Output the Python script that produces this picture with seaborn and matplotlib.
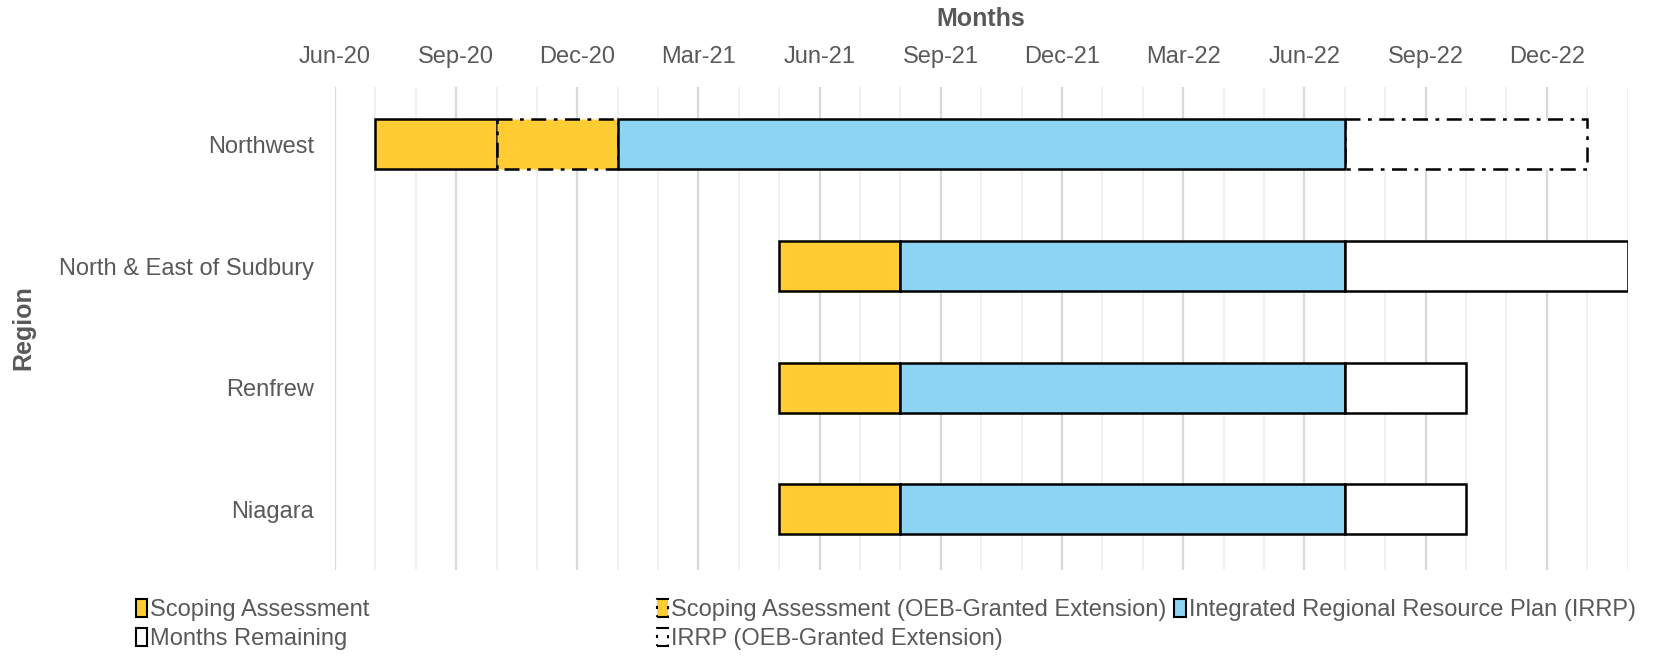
import numpy as np
import pandas as pd
import seaborn as sns
import matplotlib.pyplot as plt
from matplotlib.patches import Patch

regions = ['Northwest', 'North & East of Sudbury', 'Renfrew', 'Niagara']
# months after Jun-20
start_month = [1, 11, 11, 11]
scoping = [3, 3, 3, 3]
scoping_ext = [3, 0, 0, 0]
irrp = [18, 11, 11, 11]
irrp_ext = [6, 0, 0, 0]
remaining = [0, 7, 3, 3]
tick_labels = ['Jun-20', 'Sep-20', 'Dec-20', 'Mar-21', 'Jun-21', 'Sep-21',
               'Dec-21', 'Mar-22', 'Jun-22', 'Sep-22', 'Dec-22']
n_months = 32

YELLOW = '#FFCC33'
BLUE = '#8DD3F2'
TEXT = '#595959'
DASH = (0, (6, 3, 1.5, 3))

sns.set_theme(style='white')
plt.rcParams['font.family'] = ['Liberation Sans', 'DejaVu Sans']

df = pd.DataFrame({'region': regions, 'start': start_month, 'scoping': scoping,
                   'scoping_ext': scoping_ext, 'irrp': irrp, 'irrp_ext': irrp_ext,
                   'remaining': remaining})
df['sa_end'] = df['start'] + df['scoping']
df['sae_end'] = df['sa_end'] + df['scoping_ext']
df['irrp_end'] = df['sae_end'] + df['irrp']

fig = plt.figure(figsize=(16.54, 6.56), dpi=100)
ax = fig.add_axes([0.2025, 0.131, 0.7815, 0.736])

y = np.arange(len(regions))
h = 0.41
lw = 1.8
segments = [
    ('start', 'scoping', YELLOW, '-'),
    ('sa_end', 'scoping_ext', YELLOW, DASH),
    ('irrp_end', 'irrp_ext', 'white', DASH),
    ('sae_end', 'irrp', BLUE, '-'),
    ('irrp_end', 'remaining', 'white', '-'),
]
for left_col, width_col, color, ls in segments:
    sub = df[df[width_col] > 0]
    ax.barh(sub.index, sub[width_col], left=sub[left_col], height=h,
            color=color, edgecolor='black', linewidth=lw, linestyle=ls, zorder=3)

ax.set_xlim(0, n_months)
ax.set_ylim(len(regions) - 0.5, -0.47)
ax.set_yticks(y)
ax.set_yticklabels(regions, fontsize=17, color=TEXT)
ax.set_xticks(np.arange(0, 31, 3))
ax.set_xticklabels(tick_labels, fontsize=17, color=TEXT)
ax.set_xticks(np.arange(0, n_months + 1), minor=True)
ax.xaxis.tick_top()
ax.xaxis.set_label_position('top')
ax.tick_params(axis='both', which='both', length=0)
ax.tick_params(axis='y', pad=15)
ax.tick_params(axis='x', pad=14)
ax.grid(axis='x', which='minor', color='#EDEDED', linewidth=1.2, zorder=0)
ax.grid(axis='x', which='major', color='#D9D9D9', linewidth=1.6, zorder=0)
for s in ax.spines.values():
    s.set_visible(False)

ax.set_xlabel('Months', fontsize=18, fontweight='bold', color=TEXT, labelpad=14)
fig.text(0.014, 0.5, 'Region', rotation=90, fontsize=18, fontweight='bold',
         color=TEXT, va='center', ha='center')

def handle(color, ls):
    return Patch(facecolor=color, edgecolor='black', linewidth=1.5, linestyle=ls)

leg_kw = dict(frameon=False, fontsize=17, handlelength=0.5, handleheight=0.8,
              handletextpad=0.12, labelspacing=0.3, labelcolor=TEXT,
              loc='upper left', borderaxespad=0, borderpad=0)
fig.legend([handle(YELLOW, '-'), handle('white', '-')],
           ['Scoping Assessment', 'Months Remaining'],
           bbox_to_anchor=(0.082, 0.087), **leg_kw)
fig.legend([handle(YELLOW, DASH), handle('white', DASH)],
           ['Scoping Assessment (OEB-Granted Extension)', 'IRRP (OEB-Granted Extension)'],
           bbox_to_anchor=(0.397, 0.087), **leg_kw)
fig.legend([handle(BLUE, '-')],
           ['Integrated Regional Resource Plan (IRRP)'],
           bbox_to_anchor=(0.710, 0.087), **leg_kw)

fig.savefig('out.png', dpi=100)
